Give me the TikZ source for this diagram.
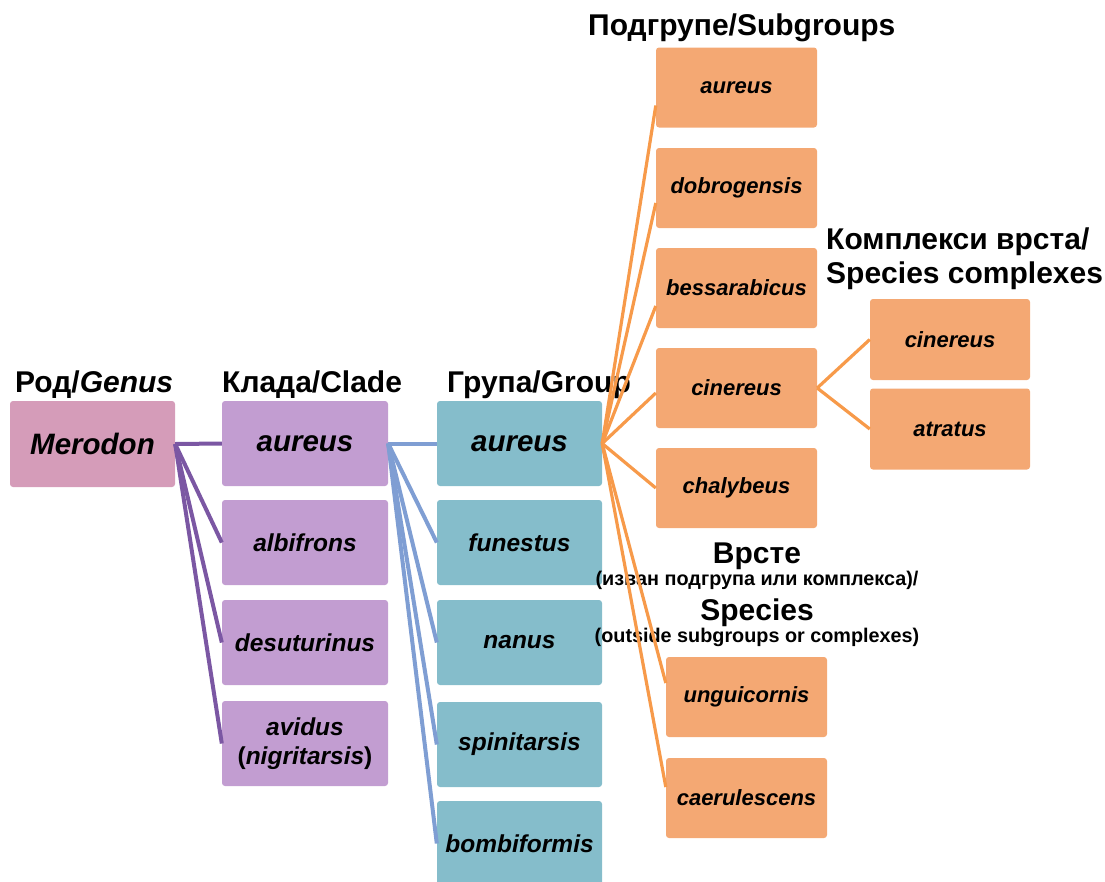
\documentclass[tikz,border=0pt]{standalone}
\usepackage{fontspec}
\setmainfont{Liberation Sans}
\usetikzlibrary{positioning}

\definecolor{genusfill}{HTML}{D59CB9}
\definecolor{cladefill}{HTML}{C29DD1}
\definecolor{groupfill}{HTML}{85BDCB}
\definecolor{subfill}{HTML}{F4A873}
\definecolor{genusdraw}{HTML}{7B57A3}
\definecolor{cladedraw}{HTML}{7F9ED3}
\definecolor{groupdraw}{HTML}{F79A4A}

\newcommand{\taxbig}{\fontsize{29.5}{34}\selectfont\bfseries\itshape}
\newcommand{\taxmid}{\fontsize{24.5}{29}\selectfont\bfseries\itshape}
\newcommand{\taxsmall}{\fontsize{22}{26}\selectfont\bfseries\itshape}

\tikzset{
  taxbox/.style={rectangle, rounded corners=3pt, inner sep=0pt, align=center},
  genusbox/.style={taxbox, fill=genusfill, minimum width=165pt, minimum height=86pt, font=\taxbig},
  cladebox/.style={taxbox, fill=cladefill, minimum width=166pt, minimum height=85pt, font=\taxmid},
  groupbox/.style={taxbox, fill=groupfill, minimum width=165pt, minimum height=85pt, font=\taxmid},
  subbox/.style={taxbox, fill=subfill, minimum width=161pt, minimum height=80pt, font=\taxsmall},
  headtext/.style={inner sep=0pt, font=\fontsize{30}{31}\selectfont\bfseries},
  subtext/.style={inner sep=0pt, font=\fontsize{19.8}{22}\selectfont\bfseries},
  genusline/.style={genusdraw, line width=4pt},
  cladeline/.style={cladedraw, line width=4pt},
  groupline/.style={groupdraw, line width=3.2pt}
}

\begin{document}
\begin{tikzpicture}[x=1pt,y=-1pt]
        \useasboundingbox (0,0) rectangle (1105,881);
        % Define column positions
        \def\cladex{305}
        \def\groupx{519.5}
        \def\subx{736.5}
        % Genus
        \node[genusbox] (merodon) at (92.5,444) {Merodon};
        % Clades
        \node[cladebox, font=\taxbig] (cl1) at (\cladex,443.5) {aureus};
        \foreach \n/\y/\txt in {cl2/542.5/albifrons, cl3/642.5/desuturinus}
            \node[cladebox] (\n) at (\cladex,\y) {\txt};
        \node[cladebox] (cl4) at (\cladex,743.5) {avidus\\\textup{(}nigritarsis\textup{)}};
        % Groups
        \node[groupbox, font=\taxbig] (gr1) at (\groupx,443.5) {aureus};
        \foreach \n/\y/\txt in {gr2/542.5/funestus, gr3/642.5/nanus, gr4/744.5/spinitarsis, gr5/843.5/bombiformis}
            \node[groupbox] (\n) at (\groupx,\y) {\txt};
        % Subgroups
        \foreach \n/\y/\txt in {sg1/87.5/aureus, sg2/188/dobrogensis, sg3/288/bessarabicus, sg4/388/cinereus, sg5/488/chalybeus}
            \node[subbox] (\n) at (\subx,\y) {\txt};
        % Species complexes
        \node[subbox, minimum width=160pt, minimum height=81pt] (cx1) at (950,339.5) {cinereus};
        \node[subbox, minimum width=160pt, minimum height=81pt] (cx2) at (950,429) {atratus};
        % Species outside subgroups
        \node[subbox] (sp1) at (746.5,697) {unguicornis};
        \node[subbox] (sp2) at (746.5,798) {caerulescens};
        % Column headings
        \node[headtext, anchor=base west] (hgenus) at (15,392) {Род/\textit{Genus}};
        \node[headtext, anchor=base west] (hclade) at (222,392) {Клада/Clade};
        \node[headtext, anchor=base west] (hgroup) at (447,392) {Група/Group};
        \node[headtext, anchor=base west] (hsub) at (588,35) {Подгрупе/Subgroups};
        \node[headtext, anchor=west, align=left, font=\fontsize{30}{34}\selectfont\bfseries] (hcomplex) at (826,259) {Комплекси врста/\\Species complexes};
        \node[headtext, anchor=base] (hsp1) at (757,563) {Врсте};
        \node[subtext, anchor=base] (hsp2) at (757,585) {(изван подгрупа или комплекса)/};
        \node[headtext, anchor=base] (hsp3) at (757,620) {Species};
        \node[subtext, anchor=base] (hsp4) at (757,642) {(outside subgroups or complexes)};
        % Connectors
        \foreach \n in {cl1,cl2,cl3,cl4}
            \draw[genusline] (merodon.east) -- (\n.west);
        \foreach \n in {gr1,gr2,gr3,gr4,gr5}
            \draw[cladeline] (cl1.east) -- (\n.west);
        \foreach \n/\s in {sg1/-18, sg2/-15, sg3/-18, sg4/-5, sg5/0}
            \draw[groupline] (gr1.east) -- ([yshift=\s pt]\n.west);
        \draw[groupline] (gr1.east) -- ([yshift=14pt]sp1.west);
        \draw[groupline] (gr1.east) -- ([yshift=11pt]sp2.west);
        \foreach \n in {cx1,cx2}
            \draw[groupline] (sg4.east) -- (\n.west);
    \end{tikzpicture}
\end{document}
